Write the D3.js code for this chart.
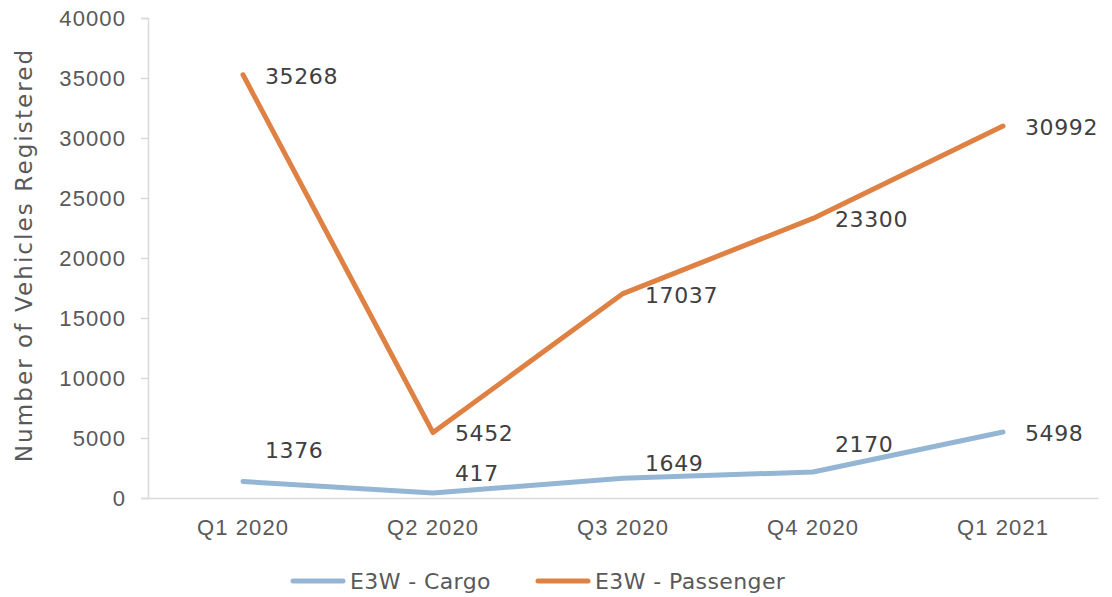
<!DOCTYPE html>
<html>
<head>
<meta charset="utf-8">
<script src="https://cdn.jsdelivr.net/npm/d3@7"></script>
<style>
  html, body { margin: 0; padding: 0; background: #ffffff; }
  svg { display: block; font-family: "DejaVu Sans", "Noto Sans", sans-serif; }
</style>
</head>
<body>
<svg id="chart" width="1112" height="597"></svg>
<script>
// Quarterly E3W registrations
const quarters = ["Q1 2020", "Q2 2020", "Q3 2020", "Q4 2020", "Q1 2021"];
const cargo = [1376, 417, 1649, 2170, 5498];
const passenger = [35268, 5452, 17037, 23300, 30992];
const seriesNames = ["E3W - Cargo", "E3W - Passenger"];
const yTicks = [0, 5000, 10000, 15000, 20000, 25000, 30000, 35000, 40000];

const colors = ["#94b6d4", "#df8143"];

// Hand-placed label offsets (dx, dy) per point for each series
const labelNudge = [
  [[22, -31], [22, -20], [22, -15], [22, -28], [22, 1]],
  [[22, 1], [22, 1], [22, 2], [22, 1], [22, 1]]
];

const svg = d3.select("#chart");
const margin = { left: 148, right: 14, top: 18, bottom: 99 };
const W = 1112, H = 597;

const x = d3.scaleBand()
  .domain(quarters)
  .range([margin.left, W - margin.right]);

const y = d3.scaleLinear()
  .domain([0, 40000])
  .range([H - margin.bottom, margin.top]);

const textColor = "#595959";
const labelColor = "#404040";
const fontSize = 22;
const spacing = "1.1px";

// Y axis
const yAxis = svg.append("g")
  .attr("transform", `translate(${margin.left},0)`)
  .call(d3.axisLeft(y).tickValues(yTicks).tickFormat(d3.format("d")).tickSize(7).tickPadding(15));
yAxis.select(".domain").attr("stroke", "#d9d9d9").attr("stroke-width", 1.5);
yAxis.selectAll(".tick line").attr("stroke", "#d9d9d9").attr("stroke-width", 1.5);
yAxis.selectAll(".tick text")
  .attr("fill", textColor)
  .style("font-size", fontSize + "px")
  .style("letter-spacing", spacing)
  .style("font-family", "inherit");

// X axis (baseline)
const xAxis = svg.append("g")
  .attr("transform", `translate(0,${y(0)})`)
  .call(d3.axisBottom(x).tickSize(0).tickPadding(21));
xAxis.select(".domain").attr("stroke", "#d9d9d9").attr("stroke-width", 1.5);
xAxis.selectAll(".tick text")
  .attr("fill", textColor)
  .style("font-size", fontSize + "px")
  .style("letter-spacing", spacing)
  .style("font-family", "inherit");

// Y axis title
svg.append("text")
  .attr("transform", `translate(32,${(y(0) + y(40000)) / 2 - 3}) rotate(-90)`)
  .attr("text-anchor", "middle")
  .attr("fill", textColor)
  .style("font-size", "23px")
  .style("letter-spacing", "2.1px")
  .text("Number of Vehicles Registered");

// Lines
const line = d3.line()
  .x((d, i) => x(quarters[i]) + x.bandwidth() / 2)
  .y(d => y(d));

const allSeries = [cargo, passenger];
allSeries.forEach((vals, s) => {
  svg.append("path")
    .datum(vals)
    .attr("fill", "none")
    .attr("stroke", colors[s])
    .attr("stroke-width", 5)
    .attr("stroke-linejoin", "round")
    .attr("stroke-linecap", "round")
    .attr("d", line);
});

// Data labels
allSeries.forEach((vals, s) => {
  svg.append("g").selectAll("text")
    .data(vals)
    .join("text")
    .attr("x", (d, i) => x(quarters[i]) + x.bandwidth() / 2 + labelNudge[s][i][0])
    .attr("y", (d, i) => y(d) + labelNudge[s][i][1])
    .attr("dy", "0.36em")
    .attr("fill", labelColor)
    .style("font-size", fontSize + "px")
    .style("letter-spacing", "0.6px")
    .text(d => d);
});

// Legend
const legend = svg.append("g").attr("transform", "translate(0,581)");
const legendX = [293, 538];
seriesNames.forEach((name, s) => {
  legend.append("line")
    .attr("x1", legendX[s]).attr("x2", legendX[s] + 50)
    .attr("y1", 0).attr("y2", 0)
    .attr("stroke", colors[s])
    .attr("stroke-width", 5)
    .attr("stroke-linecap", "round");
  legend.append("text")
    .attr("x", legendX[s] + 57)
    .attr("y", 0)
    .attr("dy", "0.36em")
    .attr("fill", textColor)
    .style("font-size", fontSize + "px")
    .style("letter-spacing", "0.4px")
    .text(name);
});
</script>
</body>
</html>
